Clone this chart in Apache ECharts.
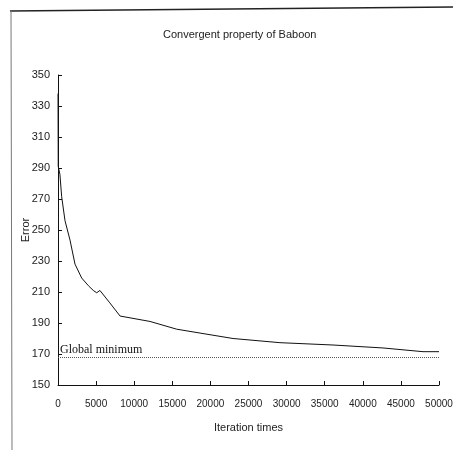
<!DOCTYPE html>
<html>
<head>
<meta charset="utf-8">
<script src="https://cdn.jsdelivr.net/npm/echarts@6/dist/echarts.min.js"></script>
<style>
  html, body { margin: 0; padding: 0; background: #fff; }
  #chart { width: 453px; height: 450px; }
</style>
</head>
<body>
<div id="chart"></div>
<script>
// values
var iterations = [0, 30, 250, 480, 920, 1575, 2230, 3110, 4000, 4630, 5080, 5500, 6800, 8140, 12070, 15580, 18640, 22970, 29130, 36090, 42650, 47900, 50000];
var errors = [338, 291, 286, 271.5, 256, 243.5, 228, 219, 214, 211, 209.5, 211, 203, 194.5, 191, 186, 183.5, 180, 177.3, 175.8, 173.9, 171.5, 171.5];
var globalMin = 168;
var yTicks = [150, 170, 190, 210, 230, 250, 270, 290, 310, 330, 350];

var lineData = [];
for (var i = 0; i < iterations.length; i++) {
    lineData.push([iterations[i], errors[i]]);
}

var sans = "'Liberation Sans', Arial, sans-serif";

var myChart = echarts.init(document.getElementById('chart'));
var option = {
    backgroundColor: '#fff',
    animation: false,
    title: {
        text: 'Convergent property of Baboon',
        left: 158,
        top: 24,
        textStyle: { fontFamily: sans, fontSize: 11, fontWeight: 'normal', color: '#222' }
    },
    grid: { left: 58, right: 14, top: 75, bottom: 65, outerBoundsMode: 'none', containLabel: false },
    xAxis: {
        type: 'value',
        min: 0,
        max: 50000,
        interval: 5000,
        name: 'Iteration times',
        nameLocation: 'middle',
        nameGap: 37,
        nameMoveOverlap: false,
        nameTextStyle: { fontFamily: sans, fontSize: 11, color: '#222' },
        axisLine: { lineStyle: { color: '#111', width: 1 } },
        axisTick: { inside: true, length: 4, lineStyle: { color: '#111' } },
        axisLabel: {
            fontFamily: sans, fontSize: 10, color: '#222', margin: 14,
            showMaxLabel: true,
            formatter: function (v) { return String(v); }
        },
        splitLine: { show: false }
    },
    yAxis: {
        type: 'value',
        min: yTicks[0],
        max: yTicks[yTicks.length - 1],
        interval: 20,
        name: 'Error',
        nameLocation: 'middle',
        nameGap: 27,
        nameRotate: 90,
        nameMoveOverlap: false,
        nameTextStyle: { fontFamily: sans, fontSize: 11, color: '#222' },
        axisLine: { show: true, lineStyle: { color: '#111', width: 1 } },
        axisTick: { show: true, inside: true, length: 4, lineStyle: { color: '#111' } },
        axisLabel: { fontFamily: sans, fontSize: 11, color: '#222', margin: 8 },
        splitLine: { show: false }
    },
    series: [{
        type: 'line',
        data: lineData,
        symbol: 'none',
        lineStyle: { color: '#111', width: 1 },
        markLine: {
            silent: true,
            symbol: 'none',
            lineStyle: { color: '#555', type: 'dotted', width: 1 },
            label: {
                position: 'insideStartTop',
                formatter: 'Global minimum',
                distance: [2, 1],
                fontFamily: "'Liberation Serif', 'DejaVu Serif', serif",
                fontSize: 12,
                color: '#111'
            },
            data: [{ yAxis: globalMin }]
        }
    }],
    graphic: [
        // scanned page frame, top and left edges
        { type: 'line', shape: { x1: 10, y1: 11, x2: 453, y2: 7 }, style: { stroke: '#222', lineWidth: 1.5 } },
        { type: 'line', shape: { x1: 11, y1: 11, x2: 12, y2: 450 }, style: { stroke: '#777', lineWidth: 1 } }
    ]
};

if (option && typeof option === 'object') {
    myChart.setOption(option);
}
</script>
</body>
</html>
